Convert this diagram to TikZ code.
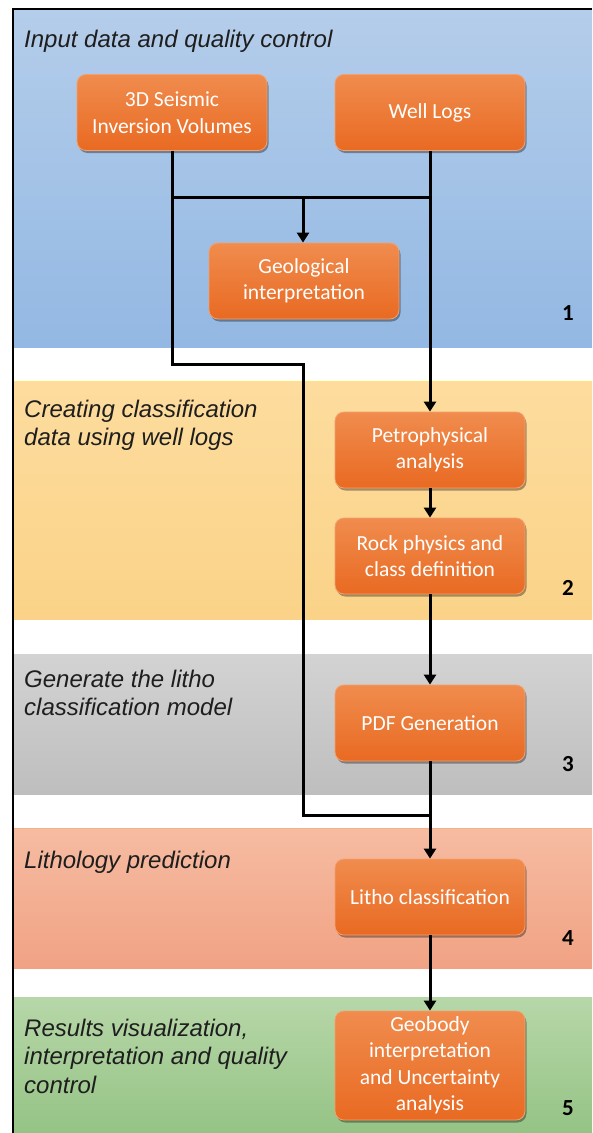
\documentclass[tikz,border=0pt]{standalone}
\usepackage{fontspec}
\setmainfont{Carlito}
\newfontfamily\titlefont{Liberation Sans}
\usetikzlibrary{arrows.meta,shadows}

% band colours (top / bottom of each vertical gradient)
\definecolor{bandAtop}{HTML}{B4CDEA}\definecolor{bandAbot}{HTML}{93B8E3}
\definecolor{bandBtop}{HTML}{FDDC9E}\definecolor{bandBbot}{HTML}{FAD388}
\definecolor{bandCtop}{HTML}{D3D3D3}\definecolor{bandCbot}{HTML}{BEBEBE}
\definecolor{bandDtop}{HTML}{F6BCA2}\definecolor{bandDbot}{HTML}{F1A284}
\definecolor{bandEtop}{HTML}{B7D7A8}\definecolor{bandEbot}{HTML}{95C385}
% process boxes
\definecolor{boxtop}{HTML}{F08C4E}\definecolor{boxbot}{HTML}{E96A22}
\definecolor{boxedge}{HTML}{F3A06C}
\definecolor{titletext}{HTML}{1E1E1E}

\begin{document}
\begin{tikzpicture}[x=1pt,y=-1pt,
  stepbox/.style={rectangle, rounded corners=9pt, minimum width=190pt,
    minimum height=76pt, inner sep=0pt, align=center, text=white,
    font=\fontsize{21.5}{26.5}\selectfont,
    top color=boxtop, bottom color=boxbot, draw=boxedge, line width=0.8pt,
    drop shadow={shadow xshift=1.5pt, shadow yshift=-2.5pt, opacity=0.35, fill=black}},
  bandtitle/.style={anchor=base west, inner sep=0pt, text=titletext,
    font=\titlefont\itshape\fontsize{24}{28.5}\selectfont},
  stagenum/.style={anchor=base, inner sep=0pt, font=\bfseries\fontsize{23}{23}\selectfont},
  wire/.style={line width=3pt},
  flow/.style={wire, -{Triangle[width=12pt,length=10pt]}}
]
\useasboundingbox (0,0) rectangle (592,1133);

% stage bands
\shade[top color=bandAtop, bottom color=bandAbot] (14,10) rectangle (592,347);
\shade[top color=bandBtop, bottom color=bandBbot] (14,381) rectangle (592,619);
\draw[line width=0.8pt, color=bandBtop!70!yellow] (14,381) -- (592,381);
\shade[top color=bandCtop, bottom color=bandCbot] (14,654) rectangle (592,794);
\shade[top color=bandDtop, bottom color=bandDbot] (14,828) rectangle (592,968);
\draw[line width=0.8pt, color=bandDtop!80!orange] (14,828) -- (592,828);
\shade[top color=bandEtop, bottom color=bandEbot] (14,997) rectangle (592,1133);

% outer frame
\draw[line width=2pt] (13,1133) -- (13,9) -- (592,9);

% band titles
\node[bandtitle] (t1) at (24,47) {Input data and quality control};
\node[bandtitle] (t2) at (24,417) {\begin{tabular}[t]{@{}l@{}}Creating classification\\data using well logs\end{tabular}};
\node[bandtitle] (t3) at (24,687) {\begin{tabular}[t]{@{}l@{}}Generate the litho\\classification model\end{tabular}};
\node[bandtitle] (t4) at (24,868) {Lithology prediction};
\node[bandtitle] (t5) at (24,1036) {\begin{tabular}[t]{@{}l@{}}Results visualization,\\interpretation and quality\\control\end{tabular}};

% stage numbers
\node[stagenum] (n1) at (568,320) {1};
\node[stagenum] (n2) at (568,595) {2};
\node[stagenum] (n3) at (568,771) {3};
\node[stagenum] (n4) at (568,945) {4};
\node[stagenum] (n5) at (568,1115) {5};

% process boxes
\node[stepbox] (seis)  at (172,112.5) {3D Seismic\\Inversion Volumes};
\node[stepbox] (wells) at (430,112.5) {Well Logs};
\node[stepbox] (geo)   at (304,281)   {Geological\\interpretation};
\node[stepbox] (petro) at (430,450)   {Petrophysical\\analysis};
\node[stepbox] (rock)  at (430,556)   {Rock physics and\\class definition};
\node[stepbox] (pdf)   at (430,723)   {PDF Generation};
\node[stepbox] (litho) at (430,897)   {Litho classification};
\node[stepbox, minimum height=109pt] (geob) at (430,1065.5)
  {Geobody\\interpretation\\and Uncertainty\\analysis};

% routing points
\coordinate (jl) at (172,197);
\coordinate (jr) at (430,197);
\coordinate (jg) at (303,197);
\coordinate (b1) at (172,364);
\coordinate (b2) at (303,364);
\coordinate (b3) at (303,815);
\coordinate (m4) at (430,815);

% connectors
\draw[wire] (seis.south) -- (b1) -- (b2) -- (b3) -- (m4);
\draw[wire] (jl) -- (jr);
\draw[flow] (jg) -- (jg |- geo.north);
\draw[flow] (wells.south) -- (petro.north);
\draw[flow] (petro.south) -- (rock.north);
\draw[flow] (rock.south) -- (pdf.north);
\draw[flow] (pdf.south) -- (litho.north);
\draw[flow] (litho.south) -- (geob.north);
\end{tikzpicture}
\end{document}
